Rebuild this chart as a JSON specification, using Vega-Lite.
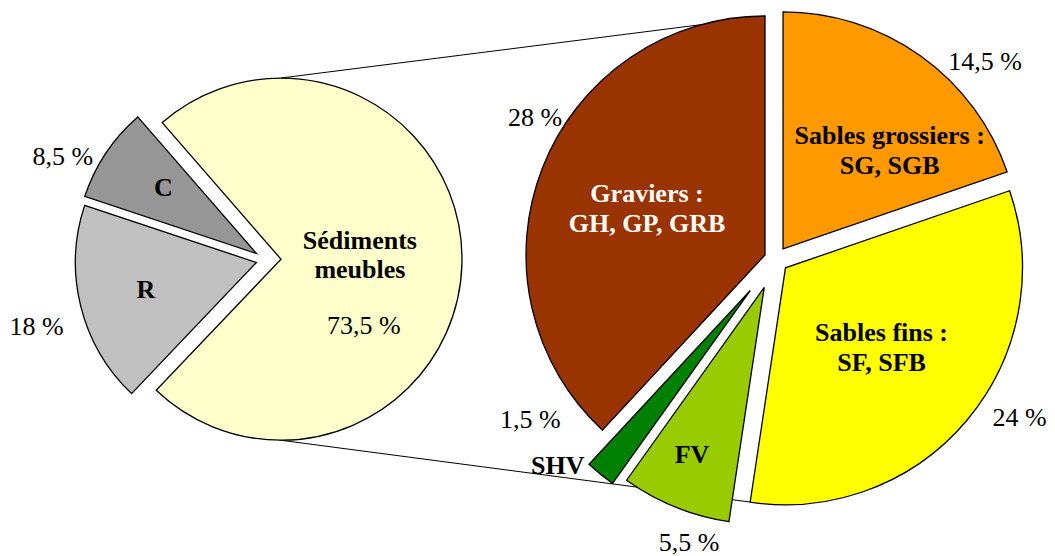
{
  "$schema": "https://vega.github.io/schema/vega-lite/v6.json",
  "width": 1055,
  "height": 556,
  "autosize": {"type": "none"},
  "padding": 0,
  "background": "white",
  "config": {
    "view": {"stroke": null},
    "arc": {"stroke": "black", "strokeWidth": 1.3},
    "text": {"font": "Liberation Serif", "fontSize": 26, "align": "center", "baseline": "middle", "lineBreak": "\n", "lineHeight": 30, "color": "black"}
  },
  "datasets": {
    "parts": [
      {"camembert": "principal", "code": "S", "etiquette": "Sédiments\nmeubles", "pct": "73,5 %", "valeur": 73.5, "ordre": 1},
      {"camembert": "principal", "code": "R", "etiquette": "R", "pct": "18 %", "valeur": 18, "ordre": 2},
      {"camembert": "principal", "code": "C", "etiquette": "C", "pct": "8,5 %", "valeur": 8.5, "ordre": 3},
      {"camembert": "secondaire", "code": "SG", "etiquette": "Sables grossiers :\nSG, SGB", "pct": "14,5 %", "valeur": 14.5, "ordre": 1},
      {"camembert": "secondaire", "code": "SF", "etiquette": "Sables fins :\nSF, SFB", "pct": "24 %", "valeur": 24, "ordre": 2},
      {"camembert": "secondaire", "code": "FV", "etiquette": "FV", "pct": "5,5 %", "valeur": 5.5, "ordre": 3},
      {"camembert": "secondaire", "code": "SHV", "etiquette": "SHV", "pct": "1,5 %", "valeur": 1.5, "ordre": 4},
      {"camembert": "secondaire", "code": "G", "etiquette": "Graviers :\nGH, GP, GRB", "pct": "28 %", "valeur": 28, "ordre": 5}
    ],
    "liaisons": [
      {"camembert": "principal", "vers": "secondaire", "bord": "haut"},
      {"camembert": "principal", "vers": "secondaire", "bord": "bas"}
    ]
  },
  "encoding": {
    "x": {"field": "camembert", "type": "nominal", "scale": {"type": "point", "domain": ["principal", "secondaire"], "range": [270, 775.5], "padding": 0}, "axis": null},
    "y": {"field": "camembert", "type": "nominal", "scale": {"type": "point", "domain": ["principal", "secondaire"], "range": [259, 259.5], "padding": 0}, "axis": null}
  },
  "layer": [
    {
      "data": {"name": "liaisons"},
      "transform": [{"filter": "datum.bord === 'haut'"}],
      "mark": {"type": "rule", "color": "black", "strokeWidth": 1, "xOffset": 11, "yOffset": -181, "x2Offset": -10, "y2Offset": -243},
      "encoding": {"x2": {"field": "vers"}, "y2": {"field": "vers"}}
    },
    {
      "data": {"name": "liaisons"},
      "transform": [{"filter": "datum.bord === 'bas'"}],
      "mark": {"type": "rule", "color": "black", "strokeWidth": 1, "xOffset": 9, "yOffset": 181, "x2Offset": -25.5, "y2Offset": 242.5},
      "encoding": {"x2": {"field": "vers"}, "y2": {"field": "vers"}}
    },
    {
      "data": {"name": "parts"},
      "transform": [
        {"filter": "datum.camembert === 'principal'"},
        {"stack": "valeur", "groupby": ["camembert"], "sort": [{"field": "ordre", "order": "ascending"}], "as": ["debut", "fin"]}
      ],
      "layer": [
        {
          "transform": [{"filter": "datum.code === 'S'"}],
          "mark": {"type": "arc", "radius": 181, "xOffset": 11.0, "yOffset": 0.2},
          "encoding": {
            "theta": {"field": "debut", "type": "quantitative", "stack": null, "scale": {"domain": [0, 100], "range": [-0.715585, 5.5676]}},
            "theta2": {"field": "fin"},
            "color": {"field": "code", "type": "nominal", "scale": {"domain": ["S", "R", "C", "SG", "SF", "FV", "SHV", "G"], "range": ["#FFFFCC", "#C0C0C0", "#969696", "#FF9900", "#FFFF00", "#99CC00", "#008000", "#993300"]}, "legend": null}
          }
        },
        {
          "transform": [{"filter": "datum.code === 'R'"}],
          "mark": {"type": "arc", "radius": 181, "xOffset": -13.6, "yOffset": 3.5},
          "encoding": {
            "theta": {"field": "debut", "type": "quantitative", "stack": null, "scale": {"domain": [0, 100], "range": [-0.715585, 5.5676]}},
            "theta2": {"field": "fin"},
            "color": {"field": "code", "type": "nominal", "legend": null}
          }
        },
        {
          "transform": [{"filter": "datum.code === 'C'"}],
          "mark": {"type": "arc", "radius": 181, "xOffset": -13.5, "yOffset": -5.5},
          "encoding": {
            "theta": {"field": "debut", "type": "quantitative", "stack": null, "scale": {"domain": [0, 100], "range": [-0.715585, 5.5676]}},
            "theta2": {"field": "fin"},
            "color": {"field": "code", "type": "nominal", "legend": null}
          }
        },
        {
          "encoding": {
            "theta": {"field": "valeur", "type": "quantitative", "stack": true, "scale": {"domain": [0, 100], "range": [-0.715585, 5.5676]}},
            "order": {"field": "ordre", "type": "quantitative"},
            "detail": {"field": "code", "type": "nominal"}
          },
          "layer": [
            {
              "mark": {"type": "text", "radius": 128, "fontWeight": "bold"},
              "encoding": {"text": {"condition": {"test": "datum.code === 'C' || datum.code === 'R'", "field": "etiquette"}, "value": ""}}
            },
            {
              "mark": {"type": "text", "radius": 90, "thetaOffset": -0.064, "dy": -14, "fontWeight": "bold", "lineBreak": "\n", "lineHeight": 29},
              "encoding": {"text": {"condition": {"test": "datum.code === 'S'", "field": "etiquette"}, "value": ""}}
            },
            {
              "mark": {"type": "text", "radius": 115.4, "thetaOffset": 0.6},
              "encoding": {"text": {"condition": {"test": "datum.code === 'S'", "field": "pct"}, "value": ""}}
            },
            {
              "mark": {"type": "text", "radius": 231, "thetaOffset": -0.131},
              "encoding": {"text": {"condition": {"test": "datum.code === 'C'", "field": "pct"}, "value": ""}}
            },
            {
              "mark": {"type": "text", "radius": 243, "thetaOffset": -0.038},
              "encoding": {"text": {"condition": {"test": "datum.code === 'R'", "field": "pct"}, "value": ""}}
            }
          ]
        }
      ]
    },
    {
      "data": {"name": "parts"},
      "transform": [
        {"filter": "datum.camembert === 'secondaire'"},
        {"stack": "valeur", "groupby": ["camembert"], "sort": [{"field": "ordre", "order": "ascending"}], "as": ["debut", "fin"]}
      ],
      "layer": [
        {
          "transform": [{"filter": "datum.code === 'SG'"}],
          "mark": {"type": "arc", "radius": 237, "xOffset": 7.55, "yOffset": -10.58},
          "encoding": {
            "theta": {"field": "debut", "type": "quantitative", "stack": null, "scale": {"domain": [0, 73.5], "range": [0, 6.283185]}},
            "theta2": {"field": "fin"},
            "color": {"field": "code", "type": "nominal", "legend": null}
          }
        },
        {
          "transform": [{"filter": "datum.code === 'SF'"}],
          "mark": {"type": "arc", "radius": 237, "xOffset": 9.99, "yOffset": 8.32},
          "encoding": {
            "theta": {"field": "debut", "type": "quantitative", "stack": null, "scale": {"domain": [0, 73.5], "range": [0, 6.283185]}},
            "theta2": {"field": "fin"},
            "color": {"field": "code", "type": "nominal", "legend": null}
          }
        },
        {
          "transform": [{"filter": "datum.code === 'FV'"}],
          "mark": {"type": "arc", "radius": 237, "xOffset": -11.26, "yOffset": 27.81},
          "encoding": {
            "theta": {"field": "debut", "type": "quantitative", "stack": null, "scale": {"domain": [0, 73.5], "range": [0, 6.283185]}},
            "theta2": {"field": "fin"},
            "color": {"field": "code", "type": "nominal", "legend": null}
          }
        },
        {
          "transform": [{"filter": "datum.code === 'SHV'"}],
          "mark": {"type": "arc", "radius": 237, "xOffset": -25.27, "yOffset": 31.01},
          "encoding": {
            "theta": {"field": "debut", "type": "quantitative", "stack": null, "scale": {"domain": [0, 73.5], "range": [0, 6.283185]}},
            "theta2": {"field": "fin"},
            "color": {"field": "code", "type": "nominal", "legend": null}
          }
        },
        {
          "transform": [{"filter": "datum.code === 'G'"}],
          "mark": {"type": "arc", "radius": 239, "xOffset": -10.5, "yOffset": -4.5},
          "encoding": {
            "theta": {"field": "debut", "type": "quantitative", "stack": null, "scale": {"domain": [0, 73.5], "range": [0, 6.283185]}},
            "theta2": {"field": "fin"},
            "color": {"field": "code", "type": "nominal", "legend": null}
          }
        },
        {
          "encoding": {
            "theta": {"field": "valeur", "type": "quantitative", "stack": true, "scale": {"domain": [0, 73.5], "range": [0, 6.283185]}},
            "order": {"field": "ordre", "type": "quantitative"},
            "detail": {"field": "code", "type": "nominal"}
          },
          "layer": [
            {
              "mark": {"type": "text", "radius": 138, "dy": -15, "fontWeight": "bold", "lineBreak": "\n", "lineHeight": 30},
              "encoding": {
                "text": {"condition": {"test": "datum.code === 'G' || datum.code === 'SF'", "field": "etiquette"}, "value": ""},
                "color": {"condition": {"test": "datum.code === 'G'", "value": "white"}, "value": "black"}
              }
            },
            {
              "mark": {"type": "text", "radius": 158, "thetaOffset": 0.188, "dy": -14, "fontWeight": "bold", "lineBreak": "\n", "lineHeight": 30},
              "encoding": {"text": {"condition": {"test": "datum.code === 'SG'", "field": "etiquette"}, "value": ""}}
            },
            {
              "mark": {"type": "text", "radius": 213, "thetaOffset": 0.018, "fontWeight": "bold"},
              "encoding": {"text": {"condition": {"test": "datum.code === 'FV'", "field": "etiquette"}, "value": ""}}
            },
            {
              "mark": {"type": "text", "radius": 300, "thetaOffset": 0.128, "fontWeight": "bold"},
              "encoding": {"text": {"condition": {"test": "datum.code === 'SHV'", "field": "etiquette"}, "value": ""}}
            },
            {
              "mark": {"type": "text", "radius": 279, "thetaOffset": 0.158},
              "encoding": {"text": {"condition": {"test": "datum.code === 'G'", "field": "pct"}, "value": ""}}
            },
            {
              "mark": {"type": "text", "radius": 288, "thetaOffset": 0.195},
              "encoding": {"text": {"condition": {"test": "datum.code === 'SG'", "field": "pct"}, "value": ""}}
            },
            {
              "mark": {"type": "text", "radius": 291, "thetaOffset": -0.119},
              "encoding": {"text": {"condition": {"test": "datum.code === 'SF'", "field": "pct"}, "value": ""}}
            },
            {
              "mark": {"type": "text", "radius": 296, "thetaOffset": -0.0885},
              "encoding": {"text": {"condition": {"test": "datum.code === 'FV'", "field": "pct"}, "value": ""}}
            },
            {
              "mark": {"type": "text", "radius": 293, "thetaOffset": 0.307},
              "encoding": {"text": {"condition": {"test": "datum.code === 'SHV'", "field": "pct"}, "value": ""}}
            }
          ]
        }
      ]
    }
  ],
  "resolve": {"scale": {"theta": "independent"}}
}
